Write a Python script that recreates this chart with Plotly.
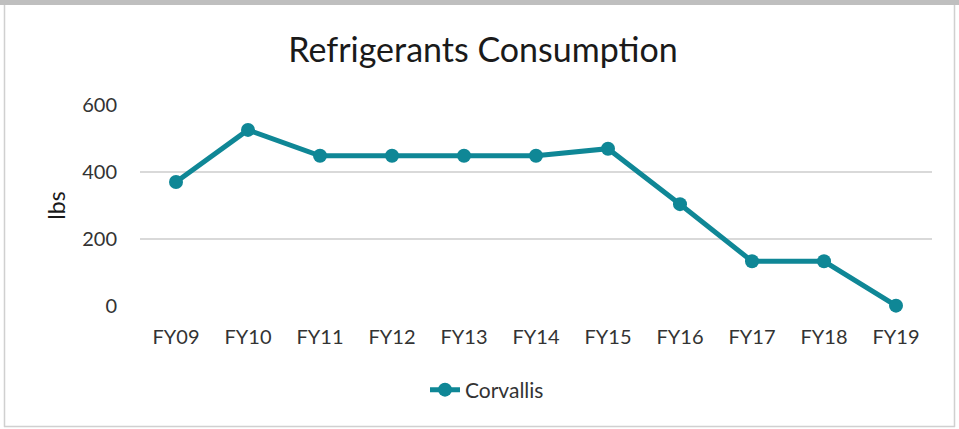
import plotly.graph_objects as go

categories = ["FY09", "FY10", "FY11", "FY12", "FY13", "FY14", "FY15", "FY16", "FY17", "FY18", "FY19"]
corvallis = [370, 525, 448, 448, 448, 448, 469, 304, 134, 134, 2]
y_ticks = [0, 200, 400, 600]

W, H = 959, 429
L, R, T, B = 140, 27, 104, 122
pw, ph = W - L - R, H - T - B

def px(x):
    return (x - L) / pw

def py(y):
    return (H - B - y) / ph

color = "#0F8796"
font = "Lato, 'Open Sans', sans-serif"

fig = go.Figure()
fig.add_trace(go.Scatter(
    x=categories, y=corvallis, mode="lines+markers", name="Corvallis",
    line=dict(color=color, width=5),
    marker=dict(color=color, size=14),
    cliponaxis=False,
))

shapes = [
    dict(type="rect", xref="paper", yref="paper", x0=px(-2), x1=px(W + 2), y0=py(-2), y1=py(5),
         fillcolor="#BFBFBF", line=dict(width=0), layer="above"),
    dict(type="line", xref="paper", yref="paper", x0=px(4.5), x1=px(4.5), y0=py(5), y1=py(427),
         line=dict(color="#D0D0D0", width=1.5)),
    dict(type="line", xref="paper", yref="paper", x0=px(954.5), x1=px(954.5), y0=py(5), y1=py(427),
         line=dict(color="#D0D0D0", width=1.5)),
    dict(type="line", xref="paper", yref="paper", x0=px(4), x1=px(955), y0=py(426.5), y1=py(426.5),
         line=dict(color="#D0D0D0", width=1.5)),
]

fig.update_layout(
    width=W, height=H,
    margin=dict(l=L, r=R, t=T, b=B, autoexpand=False),
    paper_bgcolor="white", plot_bgcolor="white",
    title=dict(text="Refrigerants Consumption", xref="container", x=483 / W, xanchor="center",
               yref="container", y=1 - 50 / H, yanchor="middle",
               font=dict(family=font, size=34, color="#1a1a1a")),
    xaxis=dict(type="category", range=[-0.5, len(categories) - 0.5],
               showgrid=False, showline=False, zeroline=False, automargin=False,
               ticks="", tickfont=dict(family=font, size=20, color="#333333"),
               ticklabelstandoff=16),
    yaxis=dict(range=[-2, 602], tickvals=y_ticks, showgrid=True, gridcolor="#D9D9D9",
               gridwidth=1.5, zeroline=False, showline=False, ticks="", automargin=False,
               tickfont=dict(family=font, size=20, color="#333333"),
               ticklabelstandoff=22,
               title=dict(text="lbs", font=dict(family=font, size=23, color="#1a1a1a"), standoff=10)),
    showlegend=True,
    legend=dict(orientation="h", x=px(487), xanchor="center", y=py(390), yanchor="middle",
                font=dict(family=font, size=21, color="#333333")),
    shapes=shapes,
)

fig.write_html("out.html", config={"displayModeBar": False},
               post_script="document.body.style.margin='0';document.body.style.overflow='hidden';")
